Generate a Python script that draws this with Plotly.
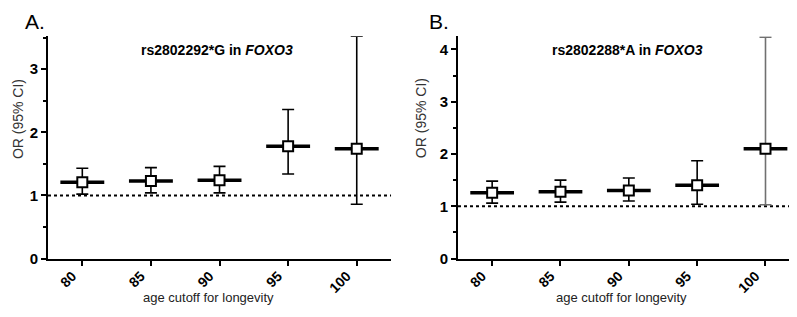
import plotly.graph_objects as go

ages = [80, 85, 90, 95, 100]
tick_labels = ["80", "85", "90", "95", "100"]

or_a = [1.21, 1.23, 1.24, 1.78, 1.74]
hi_a = [1.43, 1.44, 1.46, 2.36, 3.52]
lo_a = [1.02, 1.04, 1.04, 1.34, 0.86]

or_b = [1.26, 1.28, 1.30, 1.40, 2.10]
hi_b = [1.48, 1.50, 1.54, 1.87, 4.23]
lo_b = [1.06, 1.08, 1.10, 1.04, 1.03]

title_a = "<b>rs2802292*G in <i>FOXO3</i></b>"
title_b = "<b>rs2802288*A in <i>FOXO3</i></b>"
y_title = "OR (95% CI)"
x_title = "age cutoff for longevity"

FONT = "Arial, Liberation Sans, sans-serif"
HALF = 1.6  # half width of the horizontal OR bar, in age units

fig = go.Figure()


def add_series(xs, ys, hi, lo, xaxis, yaxis, errcolor):
    fig.add_trace(go.Scatter(
        x=xs, y=ys, xaxis=xaxis, yaxis=yaxis, mode="markers",
        marker=dict(symbol="square", size=10, color="white",
                    line=dict(color="black", width=2)),
        error_y=dict(type="data", symmetric=False,
                     array=[h - v for h, v in zip(hi, ys)],
                     arrayminus=[v - l for v, l in zip(ys, lo)],
                     color=errcolor, thickness=1.6, width=6),
        error_x=dict(type="constant", value=HALF, color="black",
                     thickness=3.5, width=0),
        showlegend=False, hoverinfo="skip"))


add_series(ages, or_a, hi_a, lo_a, "x", "y", "black")
add_series(ages[:4], or_b[:4], hi_b[:4], lo_b[:4], "x2", "y2", "black")
add_series(ages[4:], or_b[4:], hi_b[4:], lo_b[4:], "x2", "y2", "#707070")

xcommon = dict(range=[77.5, 102.5], tickmode="array", tickvals=ages,
               ticktext=tick_labels, tickangle=-45, showline=True,
               linecolor="black", linewidth=2, ticks="outside", ticklen=5,
               tickwidth=1.5, tickcolor="black", showgrid=False, zeroline=False,
               ticklabelshift=-10, ticklabelstandoff=-3,
               tickfont=dict(family=FONT, size=14, color="black", weight="bold"))
ycommon = dict(showline=True, linecolor="black", linewidth=2, ticks="outside",
               ticklen=5, tickwidth=1.5, tickcolor="black", showgrid=False,
               zeroline=False, dtick=1,
               tickfont=dict(family=FONT, size=15, color="black", weight="bold"),
               minor=dict(dtick=0.5, ticks="outside", ticklen=3, tickwidth=1.5,
                          tickcolor="black"))

fig.update_layout(
    width=797, height=317, margin=dict(l=0, r=0, t=0, b=0),
    paper_bgcolor="white", plot_bgcolor="white",
    font=dict(family=FONT, color="black"),
    xaxis=dict(domain=[0.0502, 0.4806], anchor="y", **xcommon),
    yaxis=dict(domain=[0.189, 0.9085], anchor="x", range=[0, 3.52], **ycommon),
    xaxis2=dict(domain=[0.5646, 0.9933], anchor="y2", **xcommon),
    yaxis2=dict(domain=[0.189, 0.9085], anchor="x2", range=[0, 4.25], **ycommon),
)

for xr, yr in (("x", "y"), ("x2", "y2")):
    fig.add_shape(type="line", xref=f"{xr} domain", yref=yr, x0=0, x1=1,
                  y0=1, y1=1, line=dict(color="black", width=2, dash="dot"),
                  layer="below")


def ann(text, x, y, size, color="black", angle=0):
    fig.add_annotation(text=text, xref="paper", yref="paper", x=x / 797,
                       y=1 - y / 317, xanchor="center", yanchor="middle",
                       showarrow=False, textangle=angle,
                       font=dict(family=FONT, size=size, color=color))


ann(title_a, 209, 43, 14)
ann(title_b, 619, 43, 14)
ann("A.", 27, 14, 21)
ann("B.", 431, 14, 21)
ann(y_title, 10, 114, 14, "#333", -90)
ann(y_title, 413, 113, 14, "#333", -90)
ann(x_title, 200, 297, 13, "#222")
ann(x_title, 613, 297, 13, "#222")

fig.write_html("out.html")
